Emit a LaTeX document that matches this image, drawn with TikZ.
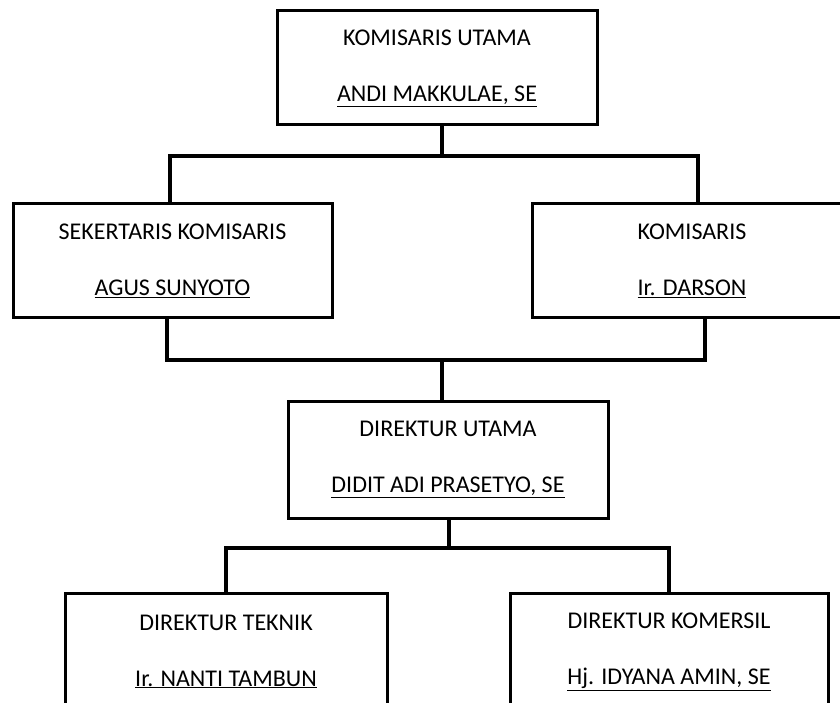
\documentclass[tikz,border=0pt]{standalone}
\usepackage{fontspec}
\setmainfont{Carlito}
\begin{document}
\begin{tikzpicture}[x=1pt,y=-1pt,
  orgbox/.style={draw=black, line width=3pt, rectangle, align=center,
    minimum width=320pt, inner sep=0pt,
    font=\fontsize{24pt}{56pt}\selectfont},
  conn/.style={draw=black, line width=3.4pt}]
\useasboundingbox (0,0) rectangle (840,703);
\clip (0,0) rectangle (840,703);
\node[orgbox, minimum height=114pt] (ku) at (437,68) {KOMISARIS UTAMA\\\underline{ANDI MAKKULAE, SE}};
\node[orgbox, minimum height=113pt, minimum width=319pt] (sk) at (172.5,260.5) {SEKERTARIS KOMISARIS\\\underline{AGUS SUNYOTO}};
\node[orgbox, minimum height=113pt] (k) at (692,260.5) {KOMISARIS\\\underline{Ir. DARSON}};
\node[orgbox, minimum height=117pt] (du) at (448,459.5) {DIREKTUR UTAMA\\\underline{DIDIT ADI PRASETYO, SE}};
\node[orgbox, minimum height=117pt, minimum width=322pt] (dt) at (226,651.5) {DIREKTUR TEKNIK\\\underline{Ir. NANTI TAMBUN}};
\node[orgbox, minimum height=117pt, minimum width=318pt] (dk) at (669,651.5) {DIREKTUR KOMERSIL\\\underline{Hj. IDYANA AMIN, SE}};
\coordinate (j1) at (442,156);
\coordinate (j2) at (442,360);
\coordinate (j3) at (449,548);
\draw[conn] (ku.south -| j1) -- (j1);
\draw[conn] ([xshift=-2.5pt]sk.north) |- (j1) -| ([xshift=6pt]k.north);
\draw[conn] ([xshift=-5.5pt]sk.south) |- (j2) -| ([xshift=13pt]k.south);
\draw[conn] (j2) -- (du.north -| j2);
\draw[conn] (du.south -| j3) -- (j3);
\draw[conn] (dt.north) |- (j3) -| (dk.north);
\end{tikzpicture}
\end{document}
